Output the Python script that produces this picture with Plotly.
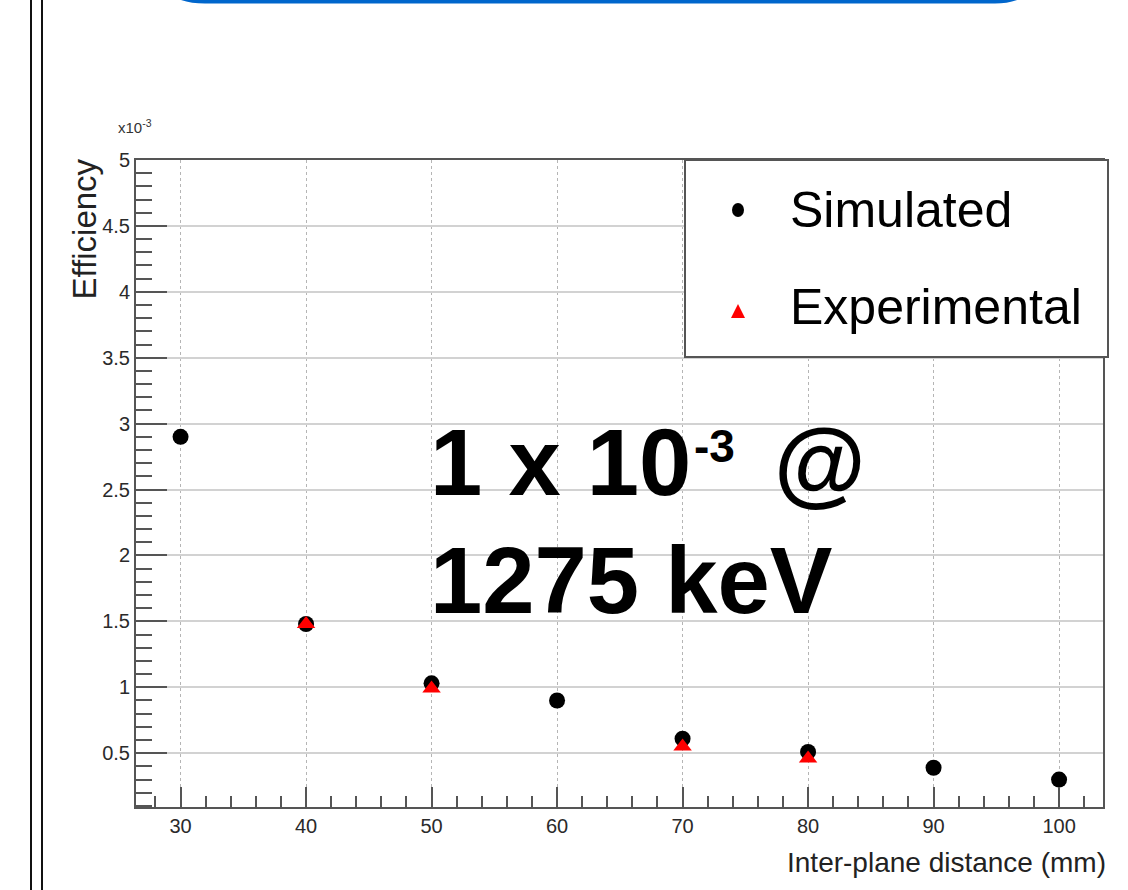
import plotly.graph_objects as go

# ---------------- data ----------------
distance_mm = [30, 40, 50, 60, 70, 80, 90, 100]
simulated_eff = [2.90e-3, 1.48e-3, 1.03e-3, 0.90e-3, 0.61e-3, 0.51e-3, 0.39e-3, 0.30e-3]

exp_distance_mm = [40, 50, 70, 80]
experimental_eff = [1.48e-3, 0.99e-3, 0.55e-3, 0.46e-3]

x_tick_vals = [30, 40, 50, 60, 70, 80, 90, 100]
y_tick_vals = [0.5e-3, 1.0e-3, 1.5e-3, 2.0e-3, 2.5e-3, 3.0e-3, 3.5e-3, 4.0e-3, 4.5e-3, 5.0e-3]
y_tick_text = ["0.5", "1", "1.5", "2", "2.5", "3", "3.5", "4", "4.5", "5"]

series_names = ["Simulated", "Experimental"]

# ---------------- geometry ----------------
W, H = 1128, 890
L, R, T, B = 136, 1103, 160, 807   # plot area in pixels


def px(x):
    return (x - L) / (R - L)


def py(y):
    return (B - y) / (B - T)


FONT = "Arial, Liberation Sans, Helvetica, sans-serif"
AXIS_COL = "#555555"

fig = go.Figure()

fig.add_trace(go.Scatter(
    x=distance_mm, y=simulated_eff, mode="markers", name=series_names[0],
    marker=dict(symbol="circle", size=16, color="black"),
    showlegend=False))
fig.add_trace(go.Scatter(
    x=exp_distance_mm, y=experimental_eff, mode="markers", name=series_names[1],
    marker=dict(symbol="triangle-up", size=16, color="#ff0000"),
    showlegend=False))

fig.update_layout(
    width=W, height=H,
    margin=dict(l=L, r=W - R, t=T, b=H - B, pad=0),
    paper_bgcolor="white", plot_bgcolor="white",
    font=dict(family=FONT, color="#222222"),
)

fig.update_xaxes(
    range=[26.45, 103.5],
    tickmode="array", tickvals=x_tick_vals,
    ticks="inside", ticklen=20, tickwidth=2, tickcolor=AXIS_COL,
    tickfont=dict(size=20, color="#2a2a2a"),
    showline=True, linecolor=AXIS_COL, linewidth=2, mirror=True,
    showgrid=True, gridcolor="#b5b5b5", gridwidth=1, griddash="dot",
    minor=dict(dtick=2, tick0=0, ticks="inside", ticklen=11, tickwidth=2,
               tickcolor=AXIS_COL, showgrid=False),
    zeroline=False, fixedrange=True,
)
fig.update_yaxes(
    range=[0.092e-3, 5.0e-3],
    tickmode="array", tickvals=y_tick_vals, ticktext=y_tick_text,
    ticks="inside", ticklen=31, tickwidth=2, tickcolor=AXIS_COL,
    tickfont=dict(size=20, color="#2a2a2a"),
    showline=True, linecolor=AXIS_COL, linewidth=2, mirror=True,
    showgrid=True, gridcolor="#d2d2d2", gridwidth=2,
    minor=dict(dtick=0.1e-3, tick0=0, ticks="inside", ticklen=16, tickwidth=2,
               tickcolor=AXIS_COL, showgrid=False),
    zeroline=False, fixedrange=True,
)

shapes = []
# slide decorations: left double rule
for xl in (31, 42):
    shapes.append(dict(type="line", xref="paper", yref="paper",
                       x0=px(xl), x1=px(xl), y0=py(0), y1=py(H),
                       line=dict(color="#111111", width=2)))
# blue rounded box bottom edge at top of page
path = (f"M {px(176)},{py(-2)} Q {px(188)},{py(3.6)} {px(205)},{py(3.6)} "
        f"L {px(995)},{py(3.6)} Q {px(1010)},{py(3.6)} {px(1022)},{py(-2)} Z")
shapes.append(dict(type="path", xref="paper", yref="paper", path=path,
                   fillcolor="#0066cc", line=dict(width=0)))
# legend box
shapes.append(dict(type="rect", xref="paper", yref="paper",
                   x0=px(685), x1=px(1108), y0=py(160), y1=py(357),
                   fillcolor="white", line=dict(color=AXIS_COL, width=2), layer="above"))
# legend keys
shapes.append(dict(type="circle", xref="paper", yref="paper",
                   x0=px(732), x1=px(744), y0=py(203), y1=py(217),
                   fillcolor="black", line=dict(width=0), layer="above"))
tri = f"M {px(731)},{py(318)} L {px(745)},{py(318)} L {px(738)},{py(304)} Z"
shapes.append(dict(type="path", xref="paper", yref="paper", path=tri,
                   fillcolor="#ff0000", line=dict(width=0), layer="above"))
fig.update_layout(shapes=shapes)

annotations = [
    dict(text=series_names[0], x=px(788), y=py(210), xanchor="left", yanchor="middle",
         font=dict(size=50, color="black", family=FONT)),
    dict(text=series_names[1], x=px(788), y=py(307), xanchor="left", yanchor="middle",
         font=dict(size=50, color="black", family=FONT)),
    dict(text="<b>1 x 10</b>", x=px(428), y=py(463), xanchor="left", yanchor="middle",
         font=dict(size=94, color="black", family=FONT)),
    dict(text="<b>-3</b>", x=px(692), y=py(446), xanchor="left", yanchor="middle",
         font=dict(size=46, color="black", family=FONT)),
    dict(text="<b>@</b>", x=px(868), y=py(463), xanchor="right", yanchor="middle",
         font=dict(size=94, color="black", family=FONT)),
    dict(text="<b>1275 keV</b>", x=px(428), y=py(580), xanchor="left", yanchor="middle",
         font=dict(size=94, color="black", family=FONT)),
    dict(text="Inter-plane distance (mm)", x=px(1108), y=py(862), xanchor="right", yanchor="middle",
         font=dict(size=28, color="#222222", family=FONT)),
    dict(text="Efficiency", x=px(84), y=py(157), xanchor="center", yanchor="top",
         textangle=-90, font=dict(size=33, color="#222222", family=FONT)),
    dict(text="x10<sup>-3</sup>", x=px(116), y=py(126), xanchor="left", yanchor="middle",
         font=dict(size=15, color="#333333", family=FONT)),
]
for a in annotations:
    a.update(xref="paper", yref="paper", showarrow=False)
fig.update_layout(annotations=annotations)

fig.write_html("out.html",
               config={"displayModeBar": False},
               post_script="document.body.style.margin='0px';document.body.style.overflow='hidden';")
